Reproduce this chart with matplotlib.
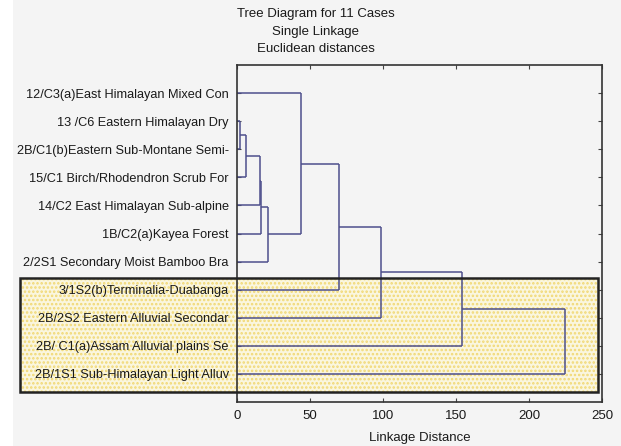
import matplotlib
matplotlib.use("Agg")
import matplotlib.pyplot as plt
from matplotlib.patches import Rectangle

plt.rcParams['font.family'] = ['Liberation Sans', 'DejaVu Sans']
plt.rcParams['hatch.linewidth'] = 1.2

# ---- data ----
case_labels = [
    "12/C3(a)East Himalayan Mixed Con",
    "13 /C6 Eastern Himalayan Dry",
    "2B/C1(b)Eastern Sub-Montane Semi-",
    "15/C1 Birch/Rhodendron Scrub For",
    "14/C2 East Himalayan Sub-alpine",
    "1B/C2(a)Kayea Forest",
    "2/2S1 Secondary Moist Bamboo Bra",
    "3/1S2(b)Terminalia-Duabanga",
    "2B/2S2 Eastern Alluvial Secondar",
    "2B/ C1(a)Assam Alluvial plains Se",
    "2B/1S1 Sub-Himalayan Light Alluv",
]
# merges: node ids 0..10 are cases, each merge creates node 11, 12, ...
merge_a = [1, 11, 12, 13, 14, 0, 16, 17, 18, 19]
merge_b = [2, 3, 4, 5, 6, 15, 7, 8, 9, 10]
merge_dist = [1.8, 6.4, 15.8, 16.3, 21.2, 44.0, 69.7, 98.6, 154.0, 224.9]
x_ticks = [0, 50, 100, 150, 200, 250]

LINE = '#4d4f8c'

fig = plt.figure(figsize=(6.21, 4.46), dpi=100)
fig.patch.set_facecolor('#f4f4f4')
# white strip at left edge
fig.patches.append(Rectangle((0, 0), 13/621, 1, transform=fig.transFigure,
                             facecolor='white', edgecolor='none', zorder=-3))

ax = fig.add_axes([237/621, 44/446, 365/621, 337/446])
ax.set_facecolor('none')

# highlight box (figure coordinates)
bx0, by0, bx1, by1 = 20/621, (446-392)/446, 598/621, (446-278)/446
fig.patches.append(Rectangle((bx0, by0), bx1-bx0, by1-by0, transform=fig.transFigure,
                             facecolor='#faf6df', edgecolor='#f1d873', hatch='....',
                             linewidth=0, zorder=-2))
fig.patches.append(Rectangle((bx0, by0), bx1-bx0, by1-by0, transform=fig.transFigure,
                             facecolor='none', edgecolor='#222222', linewidth=1.8,
                             zorder=5))

# dendrogram
n = len(case_labels)
pos = {i: i + 1 for i in range(n)}
height = {i: 0.0 for i in range(n)}
for k, (a, b, d) in enumerate(zip(merge_a, merge_b, merge_dist)):
    ya, yb = pos[a], pos[b]
    ax.plot([height[a], d], [ya, ya], color=LINE, lw=1.1, solid_capstyle='butt')
    ax.plot([height[b], d], [yb, yb], color=LINE, lw=1.1, solid_capstyle='butt')
    ax.plot([d, d], [ya, yb], color=LINE, lw=1.1, solid_capstyle='butt')
    node = n + k
    pos[node] = (ya + yb) / 2
    height[node] = d

ax.set_xlim(0, 250)
ax.set_ylim(12, 0)
ax.set_xticks(x_ticks)
ax.set_yticks(range(1, n + 1))
ax.set_yticklabels(case_labels)
ax.tick_params(axis='both', direction='in', length=3, width=0.8, colors='#444444',
               labelcolor='#1a1a1a', labelsize=9.2, top=True, right=True)
ax.tick_params(axis='y', pad=6)
ax.tick_params(axis='x', pad=6, labelsize=9.5)
for s in ax.spines.values():
    s.set_color('#333333')
    s.set_linewidth(1.2)

ax.set_xlabel('Linkage Distance', fontsize=9.5, color='#1a1a1a', labelpad=7)

fig.text(316/621, 1 - 14/446, 'Tree Diagram for 11 Cases', ha='center', va='center',
         fontsize=9.5, color='#1a1a1a')
fig.text(316/621, 1 - 31.5/446, 'Single Linkage', ha='center', va='center',
         fontsize=9.5, color='#1a1a1a')
fig.text(316/621, 1 - 49/446, 'Euclidean distances', ha='center', va='center',
         fontsize=9.5, color='#1a1a1a')

fig.savefig('out.png', dpi=100, facecolor=fig.get_facecolor())
